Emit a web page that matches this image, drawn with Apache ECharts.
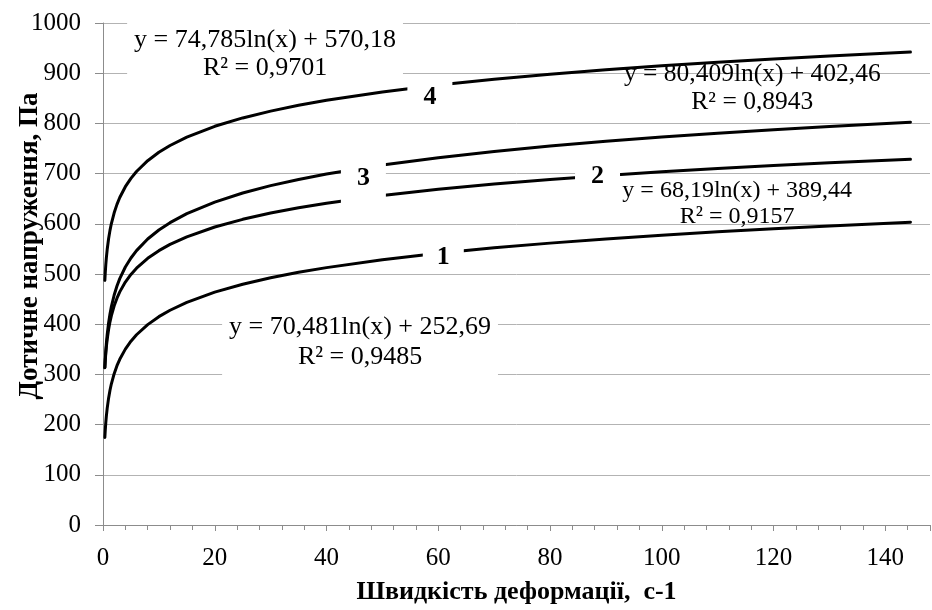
<!DOCTYPE html>
<html><head><meta charset="utf-8">
<script src="https://cdn.jsdelivr.net/npm/echarts@6/dist/echarts.min.js"></script>
<style>html,body{margin:0;padding:0;background:#fff}#c{width:932px;height:610px}</style>
</head><body><div id="c"></div>
<script>
// shear rate (x) values
const xValues = [0.33,0.4,0.5,0.6,0.75,1,1.25,1.5,2,2.5,3,4,5,6,8,10,12,15,20,25,30,35,40,50,60,70,80,90,100,110,120,130,144.5];
// shear stress
const curve1 = [174.5,188.1,203.8,216.7,232.4,252.7,268.4,281.3,301.5,317.3,330.1,350.4,366.1,379.0,399.2,415.0,427.8,443.6,463.8,479.6,492.4,503.3,512.7,528.4,541.3,552.1,561.5,569.8,577.3,584.0,590.1,595.8,603.2];
const curve2 = [313.8,327.0,342.2,354.6,369.8,389.4,404.7,417.1,436.7,451.9,464.4,484.0,499.2,511.6,531.2,546.5,558.9,574.1,593.7,608.9,621.4,631.9,641.0,656.2,668.6,679.2,688.2,696.3,703.5,710.0,715.9,721.4,728.6];
const curve3 = [313.3,328.8,346.7,361.4,379.3,402.5,420.4,435.1,458.2,476.1,490.8,513.9,531.9,546.5,569.7,587.6,602.3,620.2,643.3,661.3,676.0,688.3,699.1,717.0,731.7,744.1,754.8,764.3,772.8,780.4,787.4,793.9,802.4];
const curve4 = [487.3,501.7,518.4,532.0,548.7,570.2,586.9,600.5,622.0,638.7,652.3,673.9,690.5,704.2,725.7,742.4,756.0,772.7,794.2,810.9,824.5,836.1,846.0,862.7,876.4,887.9,897.9,906.7,914.6,921.7,928.2,934.2,942.1];
const curveNames = ['1','2','3','4'];
const equations = ['y = 70,481ln(x) + 252,69','y = 68,19ln(x) + 389,44','y = 80,409ln(x) + 402,46','y = 74,785ln(x) + 570,18'];
const rSquared = ['R² = 0,9485','R² = 0,9157','R² = 0,8943','R² = 0,9701'];
const xTicks = [0,20,40,60,80,100,120,140];
const yTicks = [0,100,200,300,400,500,600,700,800,900,1000];
const xTitle = 'Швидкість деформації,  с-1';
const yTitle = 'Дотичне напруження, Па';
// anchor points (data units) for the curve number labels and equation labels
const numberAnchors = [[60.9,532.7],[88.5,695],[46.6,691],[58.5,851.5]];
const equationAnchors = [[46.0,364],[113.5,641],[116.2,869],[29.0,937]];

const FONT = "'Liberation Serif','Times New Roman',serif";
const chart = echarts.init(document.getElementById('c'), null, {renderer:'canvas'});
const curves = [curve1,curve2,curve3,curve4];

const lineSeries = curves.map((c,i)=>({
  type:'line', name:curveNames[i], data:xValues.map((x,j)=>[x,c[j]]),
  smooth:false, showSymbol:false, symbol:'none',
  lineStyle:{color:'#000',width:3,join:'round',cap:'round'}, z:2, silent:true, animation:false
}));

const numPad = [[4,14,1,14],[7,16,7,16],[13,16,14,16],[10,16,6,16]];
const numberSeries = {
  type:'scatter', z:9, silent:true, animation:false, symbolSize:1,
  itemStyle:{color:'rgba(0,0,0,0)', opacity:1},
  data: numberAnchors.map((p,i)=>({value:p, label:{
    show:true, position:'inside', formatter:curveNames[i],
    fontFamily:FONT, fontWeight:'bold', fontSize:26, color:'#000',
    lineHeight:26, backgroundColor:'#fff', padding:numPad[i]
  }}))
};

const eqBg = ['#fff','transparent','transparent','#fff'];
const eqPad = [[8,7,2,7],[0,0,0,0],[0,0,0,0],[9,7,1,7]];
const eqLH = [30,26,28,28];
const eqFS = [26,24,25.5,26];
const equationSeries = {
  type:'scatter', z:10, silent:true, animation:false, symbolSize:1,
  itemStyle:{color:'rgba(0,0,0,0)', opacity:1},
  data: equationAnchors.map((p,i)=>({value:p, label:{
    show:true, position:'inside', formatter:equations[i]+'\n'+rSquared[i],
    fontFamily:FONT, fontSize:eqFS[i], color:'#000', align:'center',
    lineHeight:eqLH[i], backgroundColor:eqBg[i], padding:eqPad[i]
  }}))
};

chart.setOption({
  animation:false,
  backgroundColor:'#fff',
  grid:{left:103,right:2,top:23,bottom:82,containLabel:false},
  xAxis:{
    type:'value', min:xTicks[0], max:148, interval:xTicks[1]-xTicks[0],
    name:xTitle, nameLocation:'middle', nameGap:54,
    nameTextStyle:{fontFamily:FONT,fontWeight:'bold',fontSize:26,color:'#000'},
    axisLine:{show:true,lineStyle:{color:'#8c8c8c',width:1}},
    axisTick:{show:true,length:6,lineStyle:{color:'#8c8c8c'}},
    minorTick:{show:true,splitNumber:5,length:5,lineStyle:{color:'#8c8c8c'}},
    splitLine:{show:false},
    axisLabel:{fontFamily:FONT,fontSize:25,color:'#000',margin:21,showMaxLabel:false,
      formatter:v=>xTicks.includes(v)?String(v):''}
  },
  yAxis:{
    type:'value', min:yTicks[0], max:yTicks[yTicks.length-1], interval:yTicks[1]-yTicks[0],
    axisLine:{show:true,lineStyle:{color:'#8c8c8c',width:1}},
    axisTick:{show:true,length:8,lineStyle:{color:'#8c8c8c'}},
    splitLine:{show:true,lineStyle:{color:'#b3b3b3',width:1}},
    axisLabel:{fontFamily:FONT,fontSize:25,color:'#000',margin:22,formatter:v=>String(v)}
  },
  graphic:[{
    type:'text', x:30, y:246, rotation:Math.PI/2,
    style:{text:yTitle, font:"bold 27px 'Liberation Serif','Times New Roman',serif",
      fill:'#000', align:'center', verticalAlign:'middle'}
  }],
  series:[...lineSeries, numberSeries, equationSeries]
});
</script></body></html>
